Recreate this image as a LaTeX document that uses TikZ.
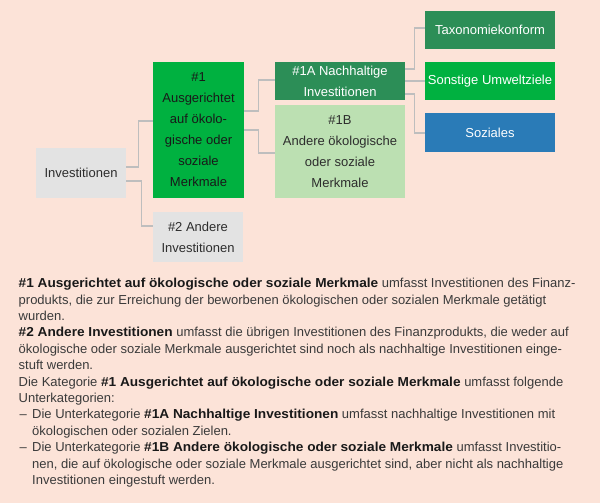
\documentclass[tikz,border=0pt]{standalone}
\usepackage{fontspec}
\setmainfont{Liberation Sans}[BoldFeatures={FakeStretch=1.05}]
\usetikzlibrary{calc}
\definecolor{bgc}{RGB}{252,227,216}
\definecolor{boxgray}{RGB}{227,227,227}
\definecolor{brightgreen}{RGB}{0,177,64}
\definecolor{darkgreen}{RGB}{44,142,87}
\definecolor{lightgreen}{RGB}{188,224,178}
\definecolor{bluebox}{RGB}{42,123,183}
\definecolor{linegray}{RGB}{190,190,190}
\definecolor{txtdark}{RGB}{45,45,45}
\definecolor{txtpara}{RGB}{58,58,58}
\definecolor{txtbold}{RGB}{25,25,25}
\newcommand{\hb}[1]{\textcolor{txtbold}{\textbf{#1}}}
\begin{document}
\begin{tikzpicture}[x=1pt,y=-1pt,
  box/.style={rectangle, inner sep=0pt, align=center, text=txtdark,
    font=\fontsize{13}{21}\selectfont},
  conn/.style={draw=linegray, line width=1.1pt}]
\fill[bgc] (0,0) rectangle (600,503);
\useasboundingbox (0,0) rectangle (600,503);

\node[box, fill=boxgray, minimum width=90pt, minimum height=50pt] (inv) at (81,173) {Investitionen};
\node[box, fill=brightgreen, text=txtbold, minimum width=91pt, minimum height=136pt] (c1) at (198.5,130)
  {\#1\\Ausgerichtet\\auf ökolo-\\gische oder\\soziale\\Merkmale};
\node[box, fill=boxgray, minimum width=90pt, minimum height=50pt] (c2) at (198,237)
  {\#2 Andere\\Investitionen};
\node[box, fill=darkgreen, text=white, minimum width=130pt, minimum height=38pt] (c1a) at (340,81)
  {\#1A Nachhaltige\\Investitionen};
\node[box, fill=lightgreen, minimum width=130pt, minimum height=93pt] (c1b) at (340,151.5)
  {\#1B\\Andere ökologische\\oder soziale\\Merkmale};
\node[box, fill=darkgreen, text=white, minimum width=130pt, minimum height=38pt] (tax) at (490,30)
  {Taxonomiekonform};
\node[box, fill=brightgreen, text=white, minimum width=130pt, minimum height=38pt] (son) at (490,81)
  {Sonstige Umweltziele};
\node[box, fill=bluebox, text=white, minimum width=130pt, minimum height=39pt] (soz) at (490,132.5)
  {Soziales};

\draw[conn] ($(inv.east)+(0,-6)$) -- ++(12,0) |- ($(c1.west)+(0,-9)$);
\draw[conn] ($(inv.east)+(0,8)$) -- ++(15,0) |- ($(c2.west)+(0,-11)$);
\draw[conn] ($(c1.east)+(0,-19)$) -- ++(14,0) |- ($(c1a.west)+(0,-1)$);
\draw[conn] (c1.east) -- ++(14,0) |- ($(c1b.west)+(0,1.5)$);
\draw[conn] ($(c1a.east)+(0,-12)$) -- ++(9,0) |- ($(tax.west)+(0,-2)$);
\draw[conn] (c1a.east) -- (son.west);
\draw[conn] ($(c1a.east)+(0,13)$) -- ++(9,0) |- ($(soz.west)+(0,0.5)$);

\node[anchor=north west, align=left, inner sep=0pt, text=txtpara,
  font=\fontsize{13}{16.4}\selectfont] (txt) at (18.5,278) {%
\hb{\#1 Ausgerichtet auf ökologische oder soziale Merkmale} umfasst Investitionen des Finanz-\\
produkts, die zur Erreichung der beworbenen ökologischen oder sozialen Merkmale getätigt\\
wurden.\\
\hb{\#2 Andere Investitionen} umfasst die übrigen Investitionen des Finanzprodukts, die weder auf\\
ökologische oder soziale Merkmale ausgerichtet sind noch als nachhaltige Investitionen einge-\\
stuft werden.\\
Die Kategorie \hb{\#1 Ausgerichtet auf ökologische oder soziale Merkmale} umfasst folgende\\
Unterkategorien:\\
\makebox[13.5pt][l]{\hspace{1pt}–}Die Unterkategorie \hb{\#1A Nachhaltige Investitionen} umfasst nachhaltige Investitionen mit\\
\hspace*{13.5pt}ökologischen oder sozialen Zielen.\\
\makebox[13.5pt][l]{\hspace{1pt}–}Die Unterkategorie \hb{\#1B Andere ökologische oder soziale Merkmale} umfasst Investitio-\\
\hspace*{13.5pt}nen, die auf ökologische oder soziale Merkmale ausgerichtet sind, aber nicht als nachhaltige\\
\hspace*{13.5pt}Investitionen eingestuft werden.};
\end{tikzpicture}
\end{document}
